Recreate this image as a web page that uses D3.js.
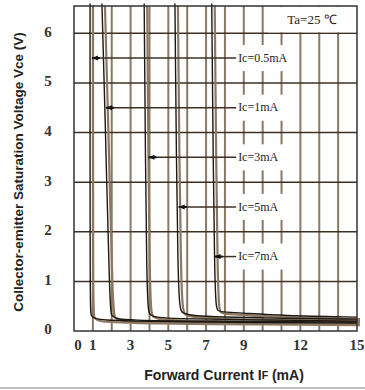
<!DOCTYPE html>
<html><head><meta charset="utf-8">
<script src="https://cdn.jsdelivr.net/npm/d3@7"></script>
<style>body{margin:0;background:#fff}svg{display:block}</style>
</head><body>
<svg id="c" width="365" height="390"></svg>
<script>
// ---- data ----
const xTickLabels = [0, 1, 3, 5, 7, 9, 12, 15];
const yTickLabels = [0, 1, 2, 3, 4, 5, 6];
const seriesNames = ["Ic=0.5mA", "Ic=1mA", "Ic=3mA", "Ic=5mA", "Ic=7mA"];
// [IF (mA), Vce (V)] points
const ic05 = [[0.85,6.6],[0.85,0.4],[0.9,0.3],[1.1,0.25],[1.6,0.22],[3,0.2],[6,0.18],[15,0.16]];
const ic1  = [[1.48,6.6],[1.64,4.5],[1.9,0.4],[2.0,0.3],[2.3,0.24],[3,0.22],[6,0.2],[15,0.18]];
const ic3  = [[3.72,6.6],[3.85,0.45],[4.0,0.32],[4.4,0.27],[5.5,0.25],[8,0.23],[15,0.2]];
const ic5  = [[5.35,6.6],[5.5,0.5],[5.7,0.36],[6.2,0.31],[8,0.28],[10,0.26],[15,0.24]];
const ic7  = [[7.3,6.6],[7.45,0.5],[7.6,0.4],[8,0.38],[9,0.36],[11,0.31],[15,0.28]];
const seriesValues = [ic05, ic1, ic3, ic5, ic7];
const leaderV = [5.5, 4.5, 3.5, 2.5, 1.5];
const leaderStartIF = [0.95, 1.7, 3.95, 5.55, 7.45];
const labelBoxIF = [8.3, 11.6];
const labelTextIF = 8.7;

// ---- chart ----
const svg = d3.select("#c");
const x = d3.scaleLinear().domain([0, 15]).range([74, 357]);
const y = d3.scaleLinear().domain([0, 6.55]).range([331, 6]);

const gridV = d3.range(1, 15);
const gridH = d3.range(1, 7);

// vertical grid (brown)
svg.append("g").selectAll("line").data(gridV).join("line")
  .attr("x1", d => x(d)).attr("x2", d => x(d))
  .attr("y1", y.range()[1]).attr("y2", y.range()[0])
  .attr("stroke", "#8c7862").attr("stroke-width", 2);

// horizontal grid
svg.append("g").selectAll("line").data(gridH).join("line")
  .attr("x1", x.range()[0]).attr("x2", x.range()[1])
  .attr("y1", d => y(d)).attr("y2", d => y(d))
  .attr("stroke", "#3e3124").attr("stroke-width", 1.5);

// curves: brown shadow + dark line
const lineC = d3.line().x(d => x(d[0])).y(d => y(d[1])).curve(d3.curveBasis);
const gc = svg.append("g");
gc.selectAll("path.sh").data(seriesValues).join("path").attr("class","sh")
  .attr("d", d => lineC(d)).attr("fill", "none")
  .attr("stroke", "#8c7862").attr("stroke-width", 2.2)
  .attr("transform", "translate(3,2)");
gc.selectAll("path.ln").data(seriesValues).join("path").attr("class","ln")
  .attr("d", d => lineC(d)).attr("fill", "none")
  .attr("stroke", "#1e1812").attr("stroke-width", 1.4);

// Ta box
svg.append("rect").attr("x", 268).attr("y", y.range()[1] + 1)
  .attr("width", x.range()[1] - 268).attr("height", y(6) - y.range()[1] - 2)
  .attr("fill", "#fff");
svg.append("text").attr("x", 312).attr("y", 21)
  .attr("text-anchor", "middle").attr("dominant-baseline", "middle")
  .attr("font-family", "Liberation Serif, serif").attr("font-size", 13)
  .attr("fill", "#2a2118").text("Ta=25 ℃");

// label boxes, leaders, labels
const gl = svg.append("g");
seriesNames.forEach((name, i) => {
  const yy = y(leaderV[i]);
  gl.append("rect").attr("x", x(labelBoxIF[0])).attr("y", yy - 13)
    .attr("width", x(labelBoxIF[1]) - x(labelBoxIF[0])).attr("height", 26)
    .attr("fill", "#fff");
  gl.append("line").attr("x1", x(leaderStartIF[i])).attr("x2", x(labelTextIF) - 2)
    .attr("y1", yy).attr("y2", yy)
    .attr("stroke", "#3e3124").attr("stroke-width", 1.5);
  const ax = x(leaderStartIF[i]);
  gl.append("path")
    .attr("d", `M${ax},${yy} l6,-2.5 l0,5 z`)
    .attr("fill", "#111");
  gl.append("line").attr("x1", ax).attr("x2", ax + 8).attr("y1", yy).attr("y2", yy)
    .attr("stroke", "#111").attr("stroke-width", 2);
  gl.append("text").attr("x", x(labelTextIF)).attr("y", yy + 1)
    .attr("dominant-baseline", "middle")
    .attr("font-family", "Liberation Serif, serif").attr("font-size", 12)
    .attr("fill", "#2a2118").text(name);
});

// frame
svg.append("rect").attr("x", x.range()[0]).attr("y", y.range()[1])
  .attr("width", x.range()[1] - x.range()[0]).attr("height", y.range()[0] - y.range()[1])
  .attr("fill", "none").attr("stroke", "#333").attr("stroke-width", 1.5);

// y tick labels
svg.append("g").selectAll("text").data(yTickLabels).join("text")
  .attr("x", 48).attr("y", d => y(d))
  .attr("text-anchor", "middle").attr("dominant-baseline", "middle")
  .attr("font-family", "Liberation Serif, serif").attr("font-weight", "bold")
  .attr("font-size", 15).attr("fill", "#333").text(d => d);

// x tick labels
svg.append("g").selectAll("text").data(xTickLabels).join("text")
  .attr("x", d => x(d) + (d === 0 ? 4 : 0)).attr("y", 347)
  .attr("text-anchor", "middle").attr("dominant-baseline", "middle")
  .attr("font-family", "Liberation Serif, serif").attr("font-weight", "bold")
  .attr("font-size", 15).attr("fill", "#333").text(d => d);

// axis titles
svg.append("text").attr("transform", "translate(19,172) rotate(-90)")
  .attr("text-anchor", "middle").attr("dominant-baseline", "middle")
  .attr("font-family", "Liberation Sans, Arial, sans-serif").attr("font-weight", "bold")
  .attr("font-size", 13.5).attr("fill", "#222")
  .text("Collector-emitter Saturation Voltage Vce (V)");

const xt = svg.append("text").attr("x", 224).attr("y", 376)
  .attr("text-anchor", "middle").attr("dominant-baseline", "middle")
  .attr("font-family", "Liberation Sans, Arial, sans-serif").attr("font-weight", "bold")
  .attr("font-size", 14).attr("fill", "#222");
xt.append("tspan").text("Forward Current I");
xt.append("tspan").attr("font-size", 10.5).text("F");
xt.append("tspan").text(" (mA)");

// bottom rule
svg.append("line").attr("x1", 0).attr("x2", 365).attr("y1", 388).attr("y2", 388)
  .attr("stroke", "#aaa").attr("stroke-width", 1.5);
</script>
</body></html>
